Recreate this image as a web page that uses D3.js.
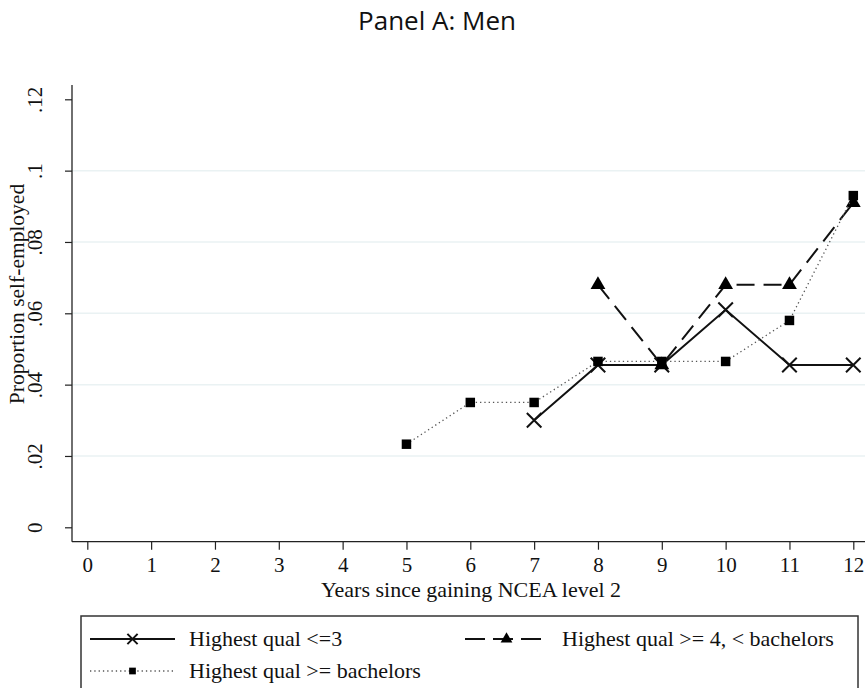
<!DOCTYPE html>
<html>
<head>
<meta charset="utf-8">
<script src="https://cdn.jsdelivr.net/npm/d3@7"></script>
<style>
  body { margin: 0; background: #fff; }
  svg text { font-family: "Liberation Serif", "Times New Roman", serif; fill: #111; }
</style>
</head>
<body>
<div id="chart"></div>
<script>
(function () {

	// data
	var xTicks = [0, 1, 2, 3, 4, 5, 6, 7, 8, 9, 10, 11, 12];
	var yTicks = [0, 0.02, 0.04, 0.06, 0.08, 0.1, 0.12];
	var yTickLabels = ["0", ".02", ".04", ".06", ".08", ".1", ".12"];
	var yGrid = [0.02, 0.04, 0.06, 0.08, 0.1];

	var lowYears = [7, 8, 9, 10, 11, 12];
	var lowVals = [0.030, 0.0455, 0.0455, 0.061, 0.0455, 0.0455];

	var midYears = [8, 9, 10, 11, 12];
	var midVals = [0.068, 0.0455, 0.068, 0.068, 0.091];

	var bachYears = [5, 6, 7, 8, 9, 10, 11, 12];
	var bachVals = [0.0233, 0.035, 0.035, 0.0465, 0.0465, 0.0465, 0.058, 0.093];

	var seriesNames = ["Highest qual <=3", "Highest qual >= 4, < bachelors", "Highest qual >= bachelors"];

	var width = 866, height = 688;

	var svg = d3.select("#chart")
		.append("svg")
		.attr("width", width)
		.attr("height", height);

	var x = d3.scaleLinear().domain([0, 12]).range([87.3, 853.3]);
	var y = d3.scaleLinear().domain([0, 0.12]).range([527.3, 99.3]);

	var axisLeftX = 72, axisBottomY = 541.7, plotTop = 85, plotRight = 865;

	// title
	svg.append("text")
		.attr("x", 437)
		.attr("y", 30)
		.attr("text-anchor", "middle")
		.style("font-family", "'Open Sans', sans-serif")
		.style("font-size", "26px")
		.text("Panel A: Men");

	// gridlines
	svg.selectAll(".grid")
		.data(yGrid)
		.enter().append("line")
		.attr("class", "grid")
		.attr("x1", axisLeftX)
		.attr("x2", plotRight)
		.attr("y1", function(d){ return y(d) })
		.attr("y2", function(d){ return y(d) })
		.attr("stroke", "#eaf2f3")
		.attr("stroke-width", 1.5);

	// axes
	var yAxis = d3.axisLeft(y)
		.tickValues(yTicks)
		.tickFormat(function(d, i){ return yTickLabels[i] })
		.tickSize(7)
		.tickPadding(0);

	var gy = svg.append("g")
		.attr("transform", "translate(" + axisLeftX + ",0)")
		.call(yAxis);
	gy.select(".domain").remove();
	gy.selectAll(".tick line").attr("stroke", "#222").attr("stroke-width", 1.2);
	gy.selectAll(".tick text")
		.attr("x", null).attr("dy", null)
		.attr("text-anchor", "middle")
		.attr("transform", "translate(-30,0) rotate(-90)")
		.style("font-size", "21px")
		.style("font-family", "'Liberation Serif', serif")
		.attr("fill", "#111");

	var xAxis = d3.axisBottom(x)
		.tickValues(xTicks)
		.tickFormat(d3.format("d"))
		.tickSize(8)
		.tickPadding(0);

	var gx = svg.append("g")
		.attr("transform", "translate(0," + axisBottomY + ")")
		.call(xAxis);
	gx.select(".domain").remove();
	gx.selectAll(".tick line").attr("stroke", "#222").attr("stroke-width", 1.2);
	gx.selectAll(".tick text")
		.attr("y", 30).attr("dy", null)
		.style("font-size", "21px")
		.style("font-family", "'Liberation Serif', serif")
		.attr("fill", "#111");

	svg.append("line")
		.attr("x1", axisLeftX).attr("x2", axisLeftX)
		.attr("y1", plotTop).attr("y2", axisBottomY)
		.attr("stroke", "#222").attr("stroke-width", 1.3);
	svg.append("line")
		.attr("x1", axisLeftX).attr("x2", plotRight)
		.attr("y1", axisBottomY).attr("y2", axisBottomY)
		.attr("stroke", "#222").attr("stroke-width", 1.3);

	// axis titles
	svg.append("text")
		.attr("text-anchor", "middle")
		.attr("transform", "translate(24,294) rotate(-90)")
		.style("font-size", "21.5px")
		.text("Proportion self-employed");

	svg.append("text")
		.attr("x", 471)
		.attr("y", 597)
		.attr("text-anchor", "middle")
		.style("font-size", "22px")
		.text("Years since gaining NCEA level 2");

	// series
	function pts(xs, vs) {
		return xs.map(function(d, i){ return [d, vs[i]] });
	}
	var line = d3.line()
		.x(function(d){ return x(d[0]) })
		.y(function(d){ return y(d[1]) });

	var lowPts = pts(lowYears, lowVals),
		midPts = pts(midYears, midVals),
		bachPts = pts(bachYears, bachVals);

	var xSym = d3.symbol().type(d3.symbolTimes);
	var triSym = d3.symbol().type(d3.symbolTriangle);
	var sqSym = d3.symbol().type(d3.symbolSquare);

	// low qual: solid + X
	svg.append("path")
		.datum(lowPts)
		.attr("d", line)
		.attr("fill", "none")
		.attr("stroke", "#111")
		.attr("stroke-width", 2);
	svg.selectAll(".mlow")
		.data(lowPts)
		.enter().append("path")
		.attr("class", "mlow")
		.attr("d", xSym.size(140))
		.attr("transform", function(d){ return "translate(" + x(d[0]) + "," + y(d[1]) + ")" })
		.attr("fill", "none")
		.attr("stroke", "#111")
		.attr("stroke-width", 2);

	// mid qual: long dash + triangle
	svg.append("path")
		.datum(midPts)
		.attr("d", line)
		.attr("fill", "none")
		.attr("stroke", "#111")
		.attr("stroke-width", 2)
		.attr("stroke-dasharray", "18,9");
	svg.selectAll(".mmid")
		.data(midPts)
		.enter().append("path")
		.attr("class", "mmid")
		.attr("d", triSym.size(95))
		.attr("transform", function(d){ return "translate(" + x(d[0]) + "," + y(d[1]) + ")" })
		.attr("fill", "#000");

	// bachelors: dotted + square
	svg.append("path")
		.datum(bachPts)
		.attr("d", line)
		.attr("fill", "none")
		.attr("stroke", "#555")
		.attr("stroke-width", 1.3)
		.attr("stroke-dasharray", "1.3,3");
	svg.selectAll(".mbach")
		.data(bachPts)
		.enter().append("path")
		.attr("class", "mbach")
		.attr("d", sqSym.size(90))
		.attr("transform", function(d){ return "translate(" + x(d[0]) + "," + y(d[1]) + ")" })
		.attr("fill", "#000");

	// legend
	var lg = svg.append("g");
	lg.append("rect")
		.attr("x", 81).attr("y", 616)
		.attr("width", 777).attr("height", 90)
		.attr("fill", "#fff")
		.attr("stroke", "#333")
		.attr("stroke-width", 1.5);

	var legendItems = [
		{name: seriesNames[0], x0: 90, x1: 175, ty: 639, dash: null, color: "#111", w: 2, mark: "x", sym: xSym.size(70)},
		{name: seriesNames[1], x0: 465, x1: 548, ty: 639, dash: "20,8", color: "#111", w: 2, mark: "t", sym: triSym.size(60)},
		{name: seriesNames[2], x0: 90, x1: 175, ty: 671, dash: "1.3,3", color: "#555", w: 1.3, mark: "s", sym: sqSym.size(45)}
	];

	var li = lg.selectAll(".li")
		.data(legendItems)
		.enter().append("g")
		.attr("class", "li");
	li.append("line")
		.attr("x1", function(d){ return d.x0 })
		.attr("x2", function(d){ return d.x1 })
		.attr("y1", function(d){ return d.ty })
		.attr("y2", function(d){ return d.ty })
		.attr("stroke", function(d){ return d.color })
		.attr("stroke-width", function(d){ return d.w })
		.attr("stroke-dasharray", function(d){ return d.dash });
	li.append("path")
		.attr("d", function(d){ return d.sym() })
		.attr("transform", function(d){ return "translate(" + ((d.x0 + d.x1) / 2) + "," + d.ty + ")" })
		.attr("fill", function(d){ return d.mark == "x" ? "none" : "#000" })
		.attr("stroke", function(d){ return d.mark == "x" ? "#111" : null })
		.attr("stroke-width", 2);
	li.append("text")
		.attr("x", function(d){ return d.x1 + 14 })
		.attr("y", function(d){ return d.ty + 7 })
		.style("font-size", "22px")
		.text(function(d){ return d.name });

})();
</script>
</body>
</html>
